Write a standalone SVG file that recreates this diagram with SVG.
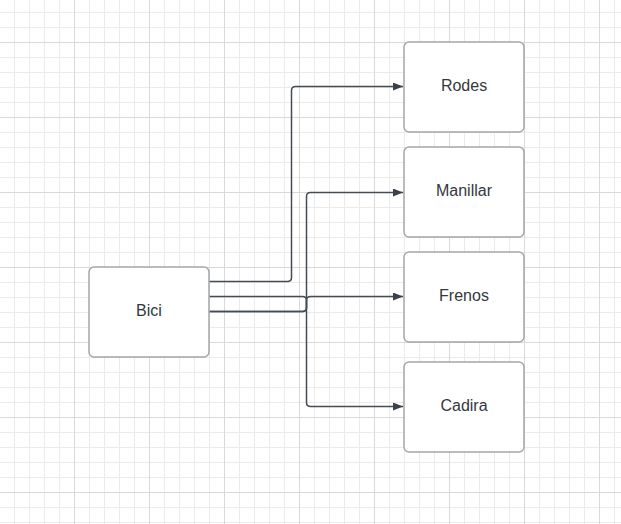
<svg xmlns="http://www.w3.org/2000/svg" width="621" height="524" viewBox="0 0 621 524">
<style>
.box{fill:#ffffff;stroke:#a3a6aa;stroke-width:1.5}
.lbl{font-family:"Liberation Sans",Arial,sans-serif;font-size:16px;fill:#333840;text-anchor:middle}
.conn{fill:none;stroke:#464c54;stroke-width:1.5}
</style>
<defs>
<pattern id="gmin" x="14" y="12" width="15" height="15" patternUnits="userSpaceOnUse">
<path d="M0.5 0V15M0 0.5H15" stroke="#ebebeb" stroke-width="1" fill="none"/>
</pattern>
<pattern id="gmaj" x="74" y="42" width="75" height="75" patternUnits="userSpaceOnUse">
<path d="M0.5 0V75M0 0.5H75" stroke="#d9d9d9" stroke-width="1" fill="none"/>
</pattern>
<marker id="arr" viewBox="0 0 10 8" refX="10" refY="4" markerWidth="10" markerHeight="8" markerUnits="userSpaceOnUse" orient="auto">
<path d="M0 0L10 4L0 8Z" fill="#3a414a"/>
</marker>
</defs>
<rect width="621" height="524" fill="#ffffff"/>
<rect width="621" height="524" fill="url(#gmin)"/>
<rect width="621" height="524" fill="url(#gmaj)"/>
<g id="connectors">
<path class="conn" marker-end="url(#arr)" d="M209 281.5H287.5Q291.5 281.5 291.5 277.5V90.5Q291.5 86.5 295.5 86.5H403"/>
<path class="conn" marker-end="url(#arr)" d="M209 311.5H302.5Q306.5 311.5 306.5 307.5V196.5Q306.5 192.5 310.5 192.5H403"/>
<path class="conn" marker-end="url(#arr)" d="M209 311.5H302.5Q306.5 311.5 306.5 307.5V300.5Q306.5 296.5 310.5 296.5H403"/>
<path class="conn" marker-end="url(#arr)" d="M209 296.5H302.5Q306.5 296.5 306.5 300.5V402.5Q306.5 406.5 310.5 406.5H403"/>
</g>
<g id="bici"><rect class="box" x="89" y="267" width="120" height="90" rx="5"/><text class="lbl" x="149" y="316">Bici</text></g>
<g id="rodes"><rect class="box" x="404" y="42" width="120" height="90" rx="5"/><text class="lbl" x="464" y="91">Rodes</text></g>
<g id="manillar"><rect class="box" x="404" y="147" width="120" height="90" rx="5"/><text class="lbl" x="464" y="196">Manillar</text></g>
<g id="frenos"><rect class="box" x="404" y="252" width="120" height="90" rx="5"/><text class="lbl" x="464" y="301">Frenos</text></g>
<g id="cadira"><rect class="box" x="404" y="362" width="120" height="90" rx="5"/><text class="lbl" x="464" y="411">Cadira</text></g>
</svg>
